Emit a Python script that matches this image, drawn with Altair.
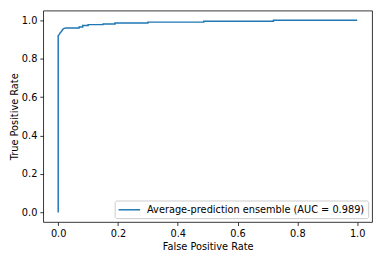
import altair as alt
import pandas as pd

fpr = [0.0, 0.0, 0.003, 0.007, 0.010, 0.017, 0.025, 0.070, 0.070, 0.082, 0.082, 0.100, 0.100,
       0.150, 0.150, 0.190, 0.190, 0.300, 0.300, 0.487, 0.487, 0.720, 0.720, 1.0]
tpr = [0.0, 0.919, 0.925, 0.935, 0.940, 0.955, 0.960, 0.960, 0.965, 0.965, 0.972, 0.972, 0.977,
       0.977, 0.980, 0.980, 0.985, 0.985, 0.990, 0.990, 0.995, 0.995, 1.0, 1.0]
series = "Average-prediction ensemble (AUC = 0.989)"
ticks = [0.0, 0.2, 0.4, 0.6, 0.8, 1.0]

df = pd.DataFrame({"fpr": fpr, "tpr": tpr, "order": list(range(len(fpr))), "series": series})

font = "DejaVu Sans"
axis_common = dict(
    values=ticks, format=".1f", grid=False, domain=False,
    tickColor="#000", tickWidth=0.8, tickSize=3.5,
    labelColor="#000", labelFontSize=10, labelFont=font, labelPadding=3,
    titleColor="#000", titleFontSize=10, titleFont=font, titleFontWeight="normal",
)

chart = alt.Chart(df).mark_line(strokeWidth=1.5).encode(
    x=alt.X("fpr:Q", scale=alt.Scale(domain=[-0.05, 1.05], nice=False, zero=False),
            axis=alt.Axis(title="False Positive Rate", titlePadding=4, **axis_common)),
    y=alt.Y("tpr:Q", scale=alt.Scale(domain=[-0.05, 1.05], nice=False, zero=False),
            axis=alt.Axis(title="True Positive Rate", titlePadding=2, **axis_common)),
    order="order:Q",
    color=alt.Color("series:N", scale=alt.Scale(range=["#1f77b4"]),
                    legend=alt.Legend(
                        title=None, orient="none", legendX=73, legendY=194,
                        symbolType="M-1,0H3", symbolSize=121, symbolStrokeWidth=1.5,
                        labelOffset=17, labelFontSize=10, labelFont=font, labelColor="#000",
                        labelLimit=0,
                        padding=3, strokeColor="#cccccc", fillColor="white", cornerRadius=2,
                    )),
).properties(
    width=336, height=216,
    autosize=alt.AutoSizeParams(type="none"),
    padding={"left": 36, "top": 0, "right": 6, "bottom": 30},
).configure_view(stroke="#000", strokeWidth=0.8)

chart.save("out.html", embed_options={"renderer": "svg", "actions": False})
